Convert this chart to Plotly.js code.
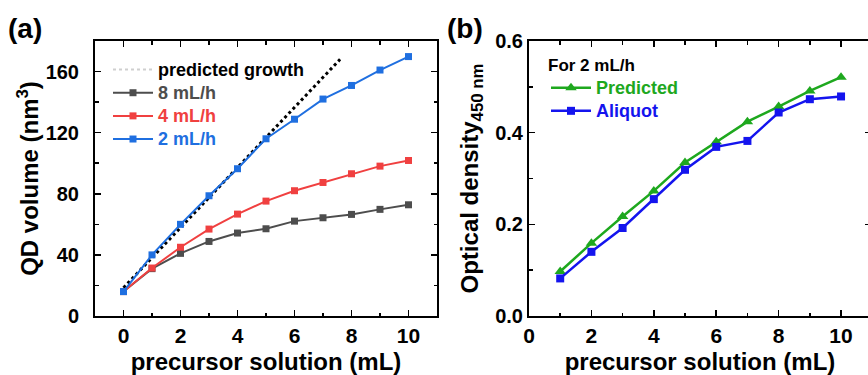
<!DOCTYPE html>
<html>
<head>
<meta charset="utf-8">
<script src="https://cdn.plot.ly/plotly-3.0.1.min.js"></script>
<style>html,body{margin:0;padding:0;background:#fff;overflow:hidden;}#plot{width:871px;height:375px;}</style>
</head>
<body>
<div id="plot"></div>
<script>
// ---- Panel (a) data ----
const volX = [0, 1, 2, 3, 4, 5, 6, 7, 8, 9, 10];
const vol8 = [16, 31, 41, 48.8, 54.3, 57.1, 62.1, 64.3, 66.5, 69.8, 72.8];
const vol4 = [16, 31.4, 45, 56.9, 66.7, 75.2, 82, 87.4, 93.1, 98.1, 101.8];
const vol2 = [16, 40, 60, 78.7, 96.4, 116, 128.8, 142, 150.9, 161, 169.8];
const predX = [0, 7.6];
const predY = [18.5, 168];

// ---- Panel (b) data ----
const odX = [1, 2, 3, 4, 5, 6, 7, 8, 9, 10];
const odPredicted = [0.097, 0.159, 0.217, 0.273, 0.335, 0.380, 0.424, 0.457, 0.491, 0.521];
const odAliquot = [0.082, 0.140, 0.192, 0.255, 0.319, 0.369, 0.382, 0.444, 0.473, 0.479];

const FONT = 'Arial, "Liberation Sans", Helvetica, sans-serif';
const C_GRAY = '#4d4d4d', C_RED = '#f04040', C_BLUE = '#1f6fe0', C_GREEN = '#1ea81e', C_BLUE2 = '#1414ee';

function lab(text, color) {
  return '<span style="font-size:18px;color:' + color + '">' + text + '</span>';
}

const traces = [
  {x: predX, y: predY, mode: 'lines', line: {color: '#000', width: 3, dash: 'dot'}, showlegend: false, xaxis: 'x', yaxis: 'y'},
  {x: [null], y: [null], mode: 'lines', name: lab('predicted growth', '#000'), line: {color: '#cfcfcf', width: 2, dash: 'dot'}, legend: 'legend', xaxis: 'x', yaxis: 'y'},
  {x: volX, y: vol8, mode: 'lines+markers', name: lab('8 mL/h', C_GRAY), line: {color: C_GRAY, width: 2}, marker: {symbol: 'square', size: 7, color: C_GRAY}, legend: 'legend', xaxis: 'x', yaxis: 'y'},
  {x: volX, y: vol4, mode: 'lines+markers', name: lab('4 mL/h', C_RED), line: {color: C_RED, width: 2}, marker: {symbol: 'square', size: 7, color: C_RED}, legend: 'legend', xaxis: 'x', yaxis: 'y'},
  {x: volX, y: vol2, mode: 'lines+markers', name: lab('2 mL/h', C_BLUE), line: {color: C_BLUE, width: 2}, marker: {symbol: 'square', size: 7, color: C_BLUE}, legend: 'legend', xaxis: 'x', yaxis: 'y'},
  {x: odX, y: odPredicted, mode: 'lines+markers', name: lab('Predicted', C_GREEN), line: {color: C_GREEN, width: 2.5}, marker: {symbol: 'triangle-up', size: 10, color: C_GREEN}, legend: 'legend2', xaxis: 'x2', yaxis: 'y2'},
  {x: odX, y: odAliquot, mode: 'lines+markers', name: lab('Aliquot', C_BLUE2), line: {color: C_BLUE2, width: 2.5}, marker: {symbol: 'square', size: 8, color: C_BLUE2}, legend: 'legend2', xaxis: 'x2', yaxis: 'y2'}
];

const W = 871, H = 375;
const yDom = [(H - 316) / H, (H - 41) / H];

function minorOf(d) {
  return {ticks: 'inside', ticklen: 3.5, tickwidth: 1.5, tickcolor: '#000', dtick: d, tick0: 0, showgrid: false};
}
function axisBase(extra) {
  return Object.assign({
    showgrid: false, zeroline: false, showline: true, linecolor: '#000', linewidth: 2,
    mirror: 'ticks', ticks: 'inside', ticklen: 6, tickwidth: 1.5, tickcolor: '#000',
    tickfont: {family: FONT, size: 20, color: '#000', weight: 'bold'},
    automargin: false
  }, extra);
}
const titleFont = {family: FONT, size: 24, weight: 'bold', color: '#000'};

const layout = {
  width: W, height: H,
  margin: {l: 0, r: 0, t: 0, b: 0},
  paper_bgcolor: '#fff', plot_bgcolor: '#fff',
  font: {family: FONT, color: '#000'},
  xaxis: axisBase({domain: [95 / W, 437 / W], range: [-1, 11], tick0: 0, dtick: 2, minor: minorOf(1),
    tickfont: {family: FONT, size: 21, color: '#000', weight: 'bold'},
    anchor: 'y', title: {text: 'precursor solution (mL)', font: titleFont, standoff: 7}}),
  yaxis: axisBase({domain: yDom, range: [0, 180], tick0: 0, dtick: 40, minor: minorOf(20),
    anchor: 'x', ticklabelstandoff: 10,
    title: {text: 'QD volume (nm<sup>3</sup>)', font: titleFont, standoff: 0}}),
  xaxis2: axisBase({domain: [529 / W, 1], range: [0, 10.96], tick0: 0, dtick: 2, minor: minorOf(1),
    tickfont: {family: FONT, size: 21, color: '#000', weight: 'bold'},
    anchor: 'y2', title: {text: 'precursor solution (mL)', font: titleFont, standoff: 7}}),
  yaxis2: axisBase({domain: yDom, range: [0, 0.6], tick0: 0, dtick: 0.2, tickformat: '.1f', minor: minorOf(0.1),
    anchor: 'x2',
    title: {text: 'Optical density<sub>450 nm</sub>', font: titleFont, standoff: 10}}),
  legend: {x: 108 / W, y: (H - 53) / H, xanchor: 'left', yanchor: 'top', bgcolor: 'rgba(0,0,0,0)', borderwidth: 0,
    font: {family: FONT, size: 15.5, weight: 'bold'}, tracegroupgap: 0, itemwidth: 40},
  legend2: {x: 546 / W, y: (H - 49) / H, xanchor: 'left', yanchor: 'top', bgcolor: 'rgba(0,0,0,0)', borderwidth: 0,
    font: {family: FONT, size: 15.5, weight: 'bold'}, itemwidth: 40,
    title: {text: 'For 2 mL/h', font: {family: FONT, size: 17, weight: 'bold', color: '#000'}}},
  annotations: [
    {text: '(a)', xref: 'paper', yref: 'paper', x: 6 / W, y: (H - 11) / H, xanchor: 'left', yanchor: 'top', showarrow: false,
      font: {family: FONT, size: 28, weight: 'bold', color: '#000'}},
    {text: '(b)', xref: 'paper', yref: 'paper', x: 445 / W, y: (H - 11) / H, xanchor: 'left', yanchor: 'top', showarrow: false,
      font: {family: FONT, size: 28, weight: 'bold', color: '#000'}}
  ]
};

Plotly.newPlot('plot', traces, layout, {displayModeBar: false, staticPlot: true});
</script>
</body>
</html>
